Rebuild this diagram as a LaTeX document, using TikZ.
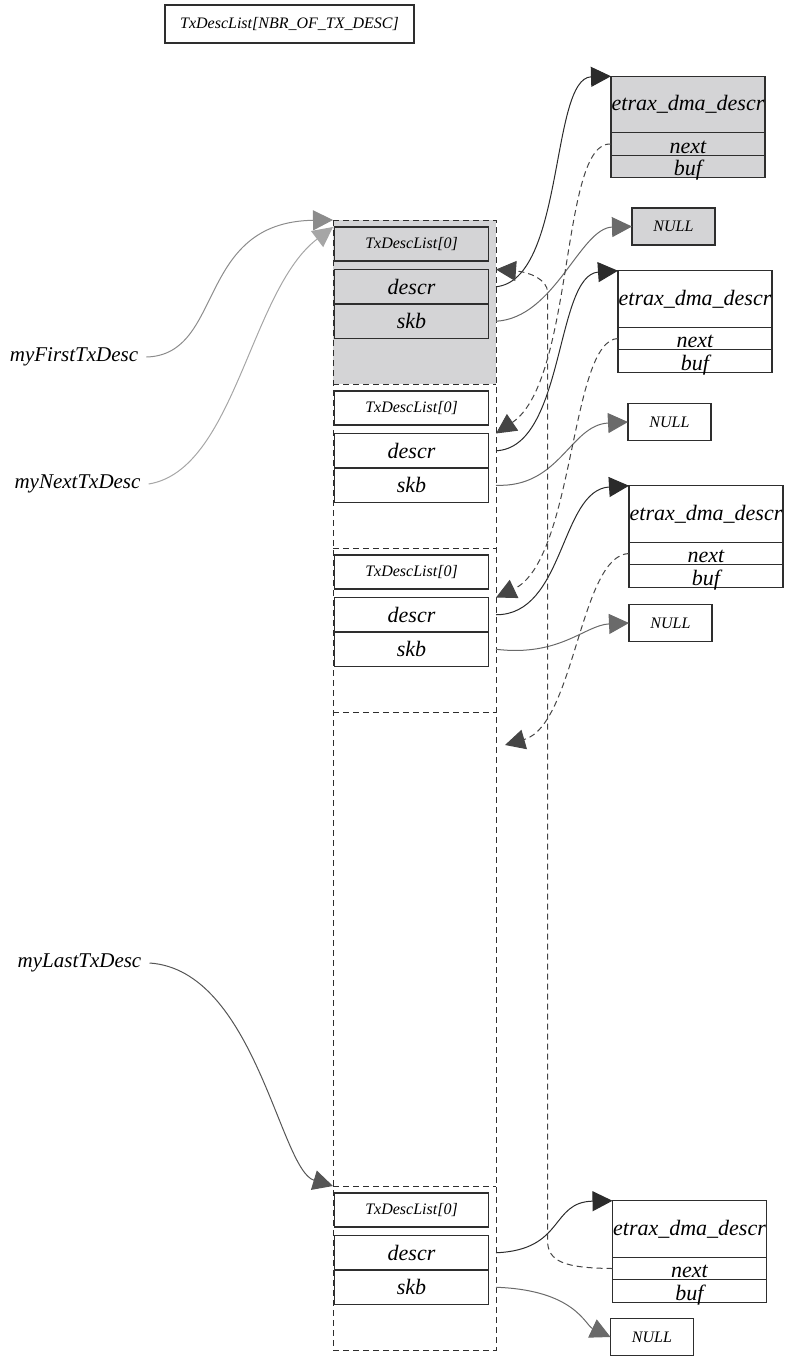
\documentclass[tikz,border=0pt]{standalone}
\usepackage{fontspec}
\setmainfont{Liberation Serif}
\usepackage{xcolor}
\usepackage{tikz}
\usetikzlibrary{positioning,arrows.meta}
\definecolor{boxline}{HTML}{2E2E2E}
\definecolor{shade}{HTML}{D4D4D6}
\definecolor{ptrdark}{HTML}{2B2B2B}
\definecolor{ptrmid}{HTML}{6A6A6A}
\definecolor{ptrnext}{HTML}{454545}
\definecolor{ptrfirst}{HTML}{8C8C8C}
\definecolor{ptrlight}{HTML}{A6A6A6}
\definecolor{ptrlast}{HTML}{555555}
\newcommand{\fieldfont}{\fontsize{22}{24}\selectfont\itshape}
\newcommand{\smallfont}{\fontsize{16}{18}\selectfont\itshape}
\newcommand{\labelfont}{\fontsize{21}{23}\selectfont\itshape}
\tikzset{
    slot/.style={rectangle, minimum width=163pt, minimum height=164pt, inner sep=0pt, outer sep=0pt},
    slotline/.style={draw=boxline, dash pattern=on 6pt off 4pt, line width=1pt},
    listbox/.style={rectangle, draw=boxline, line width=1.3pt, minimum width=154pt, minimum height=34pt, inner sep=0pt, outer sep=0pt, font=\smallfont},
    field/.style={rectangle, draw=boxline, line width=1.3pt, minimum width=154pt, minimum height=34.5pt, inner sep=0pt, outer sep=0pt, font=\fieldfont},
    dmahead/.style={field, minimum height=56.5pt},
    dmarow/.style={field, minimum height=22.5pt, text height=19pt, text depth=1pt},
    nullbox/.style={rectangle, draw=boxline, line width=1.3pt, minimum width=83pt, minimum height=37pt, inner sep=0pt, outer sep=0pt, font=\smallfont},
    varname/.style={inner sep=8pt, font=\labelfont},
    ptr/.style={-{Triangle[length=20pt, width=20pt]}, line width=1pt},
    nextptr/.style={ptr, dash pattern=on 6pt off 4pt, color=ptrnext}
}

\begin{document}
\begin{tikzpicture}[x=1pt, y=-1pt]
\useasboundingbox (0,0) rectangle (788,1357);

% ── Array title ──
\node[listbox, line width=1.1pt, minimum width=249pt, minimum height=38pt] (arrTitle) at (289.5,24) {TxDescList[NBR\_OF\_TX\_DESC]};

% ── Slots of the array ──
\node[slot, fill=shade] (slotA) at (414.5,302) {};
\node[slot, below=0pt of slotA] (slotB) {};
\node[slot, below=0pt of slotB] (slotC) {};
\node[slot, below=0pt of slotC, minimum height=474pt] (slotGap) {};
\node[slot, below=0pt of slotGap] (slotD) {};
\draw[slotline] (slotA.north west) rectangle (slotD.south east);
\draw[slotline] (slotA.south west) -- (slotA.south east);
\draw[slotline] (slotB.south west) -- (slotB.south east);
\draw[slotline] (slotC.south west) -- (slotC.south east);
\draw[slotline] (slotGap.south west) -- (slotGap.south east);

% ── Slot 0 ──
\node[listbox, fill=shade, below=7pt of slotA.north, xshift=-3pt] (listA) {TxDescList[0]};
\node[field, fill=shade, below=8.5pt of listA] (descrA) {descr};
\node[field, fill=shade, below=0pt of descrA] (skbA) {skb};

% ── Slot 1 ──
\node[listbox, below=7pt of slotB.north, xshift=-3pt] (listB) {TxDescList[0]};
\node[field, below=8.5pt of listB] (descrB) {descr};
\node[field, below=0pt of descrB] (skbB) {skb};

% ── Slot 2 ──
\node[listbox, below=7pt of slotC.north, xshift=-3pt] (listC) {TxDescList[0]};
\node[field, below=8.5pt of listC] (descrC) {descr};
\node[field, below=0pt of descrC] (skbC) {skb};

% ── Last slot ──
\node[listbox, below=7pt of slotD.north, xshift=-3pt] (listD) {TxDescList[0]};
\node[field, below=8.5pt of listD] (descrD) {descr};
\node[field, below=0pt of descrD] (skbD) {skb};

% ── DMA descriptors ──
\node[dmahead, fill=shade] (etraxA) at (688,104.5) {etrax\_dma\_descr};
\node[dmarow, fill=shade, below=0pt of etraxA] (nextA) {next};
\node[dmarow, fill=shade, below=0pt of nextA] (bufA) {buf};

\node[dmahead] (etraxB) at (695,299) {etrax\_dma\_descr};
\node[dmarow, below=0pt of etraxB] (nextB) {next};
\node[dmarow, below=0pt of nextB] (bufB) {buf};

\node[dmahead] (etraxC) at (706,514) {etrax\_dma\_descr};
\node[dmarow, below=0pt of etraxC] (nextC) {next};
\node[dmarow, below=0pt of nextC] (bufC) {buf};

\node[dmahead] (etraxD) at (689.5,1229) {etrax\_dma\_descr};
\node[dmarow, below=0pt of etraxD] (nextD) {next};
\node[dmarow, below=0pt of nextD] (bufD) {buf};

% ── Buffers ──
\node[nullbox, fill=shade] (nullA) at (673.5,226.5) {NULL};
\node[nullbox] (nullB) at (669.5,422) {NULL};
\node[nullbox] (nullC) at (670.5,623) {NULL};
\node[nullbox] (nullD) at (652,1337) {NULL};

% ── Variables ──
\node[varname] (labFirst) at (74,357) {myFirstTxDesc};
\node[varname] (labNext) at (77.5,484) {myNextTxDesc};
\node[varname] (labLast) at (79.5,963) {myLastTxDesc};

\coordinate (gapIn) at (505,745);
\coordinate (loopLow) at (547.5,1240);
\coordinate (loopHigh) at (547.5,292);

% ── Variable pointers ──
\draw[ptr, color=ptrfirst] (labFirst.east) .. controls (225,355) and (195,222) .. (slotA.north west);
\draw[ptr, color=ptrlight] (labNext.east) .. controls (235,470) and (250,290) .. ([yshift=-7pt]slotA.north west);
\draw[ptr, color=ptrlast] (labLast.east) .. controls (255,970) and (280,1170) .. (slotD.north west);

% ── descr and skb pointers ──
\draw[ptr, color=ptrdark] (descrA.east -| slotA.east) .. controls (565,280) and (550,78) .. (etraxA.north west);
\draw[ptr, color=ptrmid] (skbA.east -| slotA.east) .. controls (555,318) and (580,228) .. (nullA.west);
\draw[ptr, color=ptrdark] (descrB.east -| slotB.east) .. controls (565,448) and (555,275) .. (etraxB.north west);
\draw[ptr, color=ptrmid] (skbB.east -| slotB.east) .. controls (560,488) and (570,425) .. (nullB.west);
\draw[ptr, color=ptrdark] (descrC.east -| slotC.east) .. controls (565,615) and (560,490) .. (etraxC.north west);
\draw[ptr, color=ptrmid] (skbC.east -| slotC.east) .. controls (560,657) and (585,625) .. (nullC.west);
\draw[ptr, color=ptrdark] (descrD.east -| slotD.east) .. controls (565,1250) and (550,1202) .. (etraxD.north west);
\draw[ptr, color=ptrmid] (skbD.east -| slotD.east) .. controls (575,1290) and (585,1325) .. (nullD.west);

% ── next pointers ──
\draw[nextptr] (nextA.west) .. controls (560,140) and (575,380) .. (descrB.north -| slotB.east);
\draw[nextptr] (nextB.west) .. controls (570,340) and (575,560) .. (descrC.north -| slotC.east);
\draw[nextptr] (nextC.west) .. controls (580,555) and (575,725) .. (gapIn);
\draw[nextptr] (nextD.west) .. controls (565,1268) and (547.5,1262) .. (loopLow) -- (loopHigh) .. controls (547.5,280) and (530,272) .. (descrA.north -| slotA.east);

\end{tikzpicture}
\end{document}
